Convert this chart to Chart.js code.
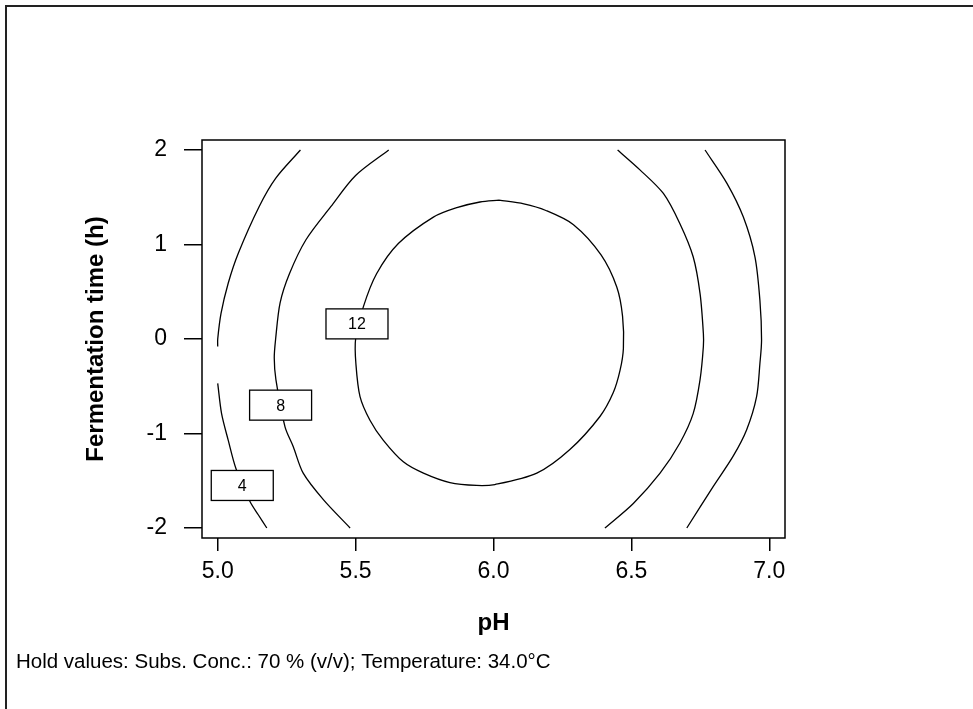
<!DOCTYPE html>
<html>
<head>
<meta charset="utf-8">
<title>Contour plot</title>
<script src="https://cdn.jsdelivr.net/npm/chart.js@4"></script>
<style>
  html, body { margin: 0; padding: 0; background: #fff; }
  canvas { display: block; }
</style>
</head>
<body>
<canvas id="grafico" width="973" height="709"></canvas>
<script>
// Ejes
const xTicks = [5.0, 5.5, 6.0, 6.5, 7.0];
const yTicks = [-2, -1, 0, 1, 2];

// Curvas de nivel
const c4IzqArribaX = [5.30, 5.21, 5.15, 5.075, 5.038, 5.012, 5.0, 5.0];
const c4IzqArribaY = [2.0, 1.70, 1.40, 0.91, 0.59, 0.27, 0.0, -0.08];
const c4IzqAbajoX = [5.0, 5.014, 5.038, 5.066, 5.117, 5.147, 5.178];
const c4IzqAbajoY = [-0.47, -0.79, -1.07, -1.37, -1.72, -1.86, -2.0];

const c8IzqX = [5.62, 5.50, 5.41, 5.32, 5.26, 5.226, 5.21, 5.205, 5.211, 5.244, 5.274, 5.31, 5.383, 5.48];
const c8IzqY = [2.0, 1.73, 1.40, 1.05, 0.69, 0.38, 0.0, -0.2, -0.43, -0.93, -1.14, -1.42, -1.70, -2.0];

const c12X = [6.02, 6.11, 6.19, 6.29, 6.39, 6.447, 6.468, 6.471, 6.459, 6.434, 6.386, 6.277, 6.157, 6.005, 5.939, 5.842, 5.746, 5.673, 5.60, 5.552, 5.516, 5.501, 5.50, 5.528, 5.576, 5.655, 5.782, 5.867, 5.951, 6.02];
const c12Y = [1.47, 1.43, 1.36, 1.21, 0.89, 0.55, 0.24, -0.10, -0.33, -0.57, -0.82, -1.17, -1.42, -1.54, -1.55, -1.52, -1.42, -1.30, -1.07, -0.86, -0.61, -0.26, 0.0, 0.34, 0.69, 1.01, 1.29, 1.39, 1.45, 1.47];

const c8DerX = [6.45, 6.531, 6.616, 6.676, 6.724, 6.749, 6.761, 6.761, 6.749, 6.724, 6.676, 6.604, 6.507, 6.404];
const c8DerY = [2.0, 1.79, 1.54, 1.22, 0.87, 0.48, 0.06, -0.08, -0.43, -0.79, -1.10, -1.42, -1.74, -2.0];

const c4DerX = [6.767, 6.846, 6.906, 6.948, 6.966, 6.972, 6.966, 6.954, 6.918, 6.869, 6.797, 6.701];
const c4DerY = [2.0, 1.65, 1.29, 0.87, 0.41, -0.01, -0.26, -0.61, -0.96, -1.24, -1.56, -2.0];

// Etiquetas de nivel
const etiquetaTexto = ['12', '8', '4'];
const etiquetaX = [5.505, 5.228, 5.089];
const etiquetaY = [0.16, -0.70, -1.55];

const textoPie = 'Hold values: Subs. Conc.: 70 % (v/v); Temperature: 34.0°C';

const FUENTE = '"Liberation Sans", Arial, sans-serif';

function puntos(xs, ys) {
    return xs.map((x, i) => ({ x: x, y: ys[i] }));
}

function curva(xs, ys) {
    return {
        data: puntos(xs, ys),
        showLine: true,
        borderColor: '#000',
        borderWidth: 1.3,
        pointRadius: 0,
        tension: 0.3,
        fill: false
    };
}

// Marco exterior, marco del área y pie de página
const marcoPlugin = {
    id: 'marco',
    beforeDraw(chart) {
        const c = chart.ctx;
        c.save();
        c.fillStyle = '#fff';
        c.fillRect(0, 0, chart.width, chart.height);
        c.strokeStyle = '#222';
        c.lineWidth = 2;
        c.beginPath();
        c.moveTo(6, chart.height);
        c.lineTo(6, 6);
        c.lineTo(chart.width, 6);
        c.stroke();
        c.restore();
    },
    afterDraw(chart) {
        const c = chart.ctx;
        const a = chart.chartArea;
        c.save();
        c.strokeStyle = '#000';
        c.lineWidth = 1.5;
        c.strokeRect(a.left, a.top, a.right - a.left, a.bottom - a.top);
        c.fillStyle = '#000';
        c.font = '20.5px ' + FUENTE;
        c.textBaseline = 'middle';
        c.textAlign = 'left';
        c.fillText(textoPie, 16, 662);
        c.restore();
    }
};

// Cajas con el valor de cada curva
const etiquetasPlugin = {
    id: 'etiquetas',
    afterDatasetsDraw(chart) {
        const c = chart.ctx;
        const sx = chart.scales.x;
        const sy = chart.scales.y;
        c.save();
        c.font = '16px ' + FUENTE;
        c.textAlign = 'center';
        c.textBaseline = 'middle';
        etiquetaTexto.forEach((t, i) => {
            const px = sx.getPixelForValue(etiquetaX[i]);
            const py = sy.getPixelForValue(etiquetaY[i]);
            c.fillStyle = '#fff';
            c.fillRect(px - 31, py - 15, 62, 30);
            c.strokeStyle = '#000';
            c.lineWidth = 1.3;
            c.strokeRect(px - 31, py - 15, 62, 30);
            c.fillStyle = '#000';
            c.fillText(t, px, py + 1);
        });
        c.restore();
    }
};

const ctx = document.getElementById('grafico').getContext('2d');
new Chart(ctx, {
    type: 'scatter',
    data: {
        datasets: [
            curva(c4IzqArribaX, c4IzqArribaY),
            curva(c4IzqAbajoX, c4IzqAbajoY),
            curva(c8IzqX, c8IzqY),
            curva(c12X, c12Y),
            curva(c8DerX, c8DerY),
            curva(c4DerX, c4DerY)
        ]
    },
    options: {
        responsive: false,
        animation: false,
        layout: { padding: { top: 140, right: 188, bottom: 0, left: 0 } },
        plugins: {
            legend: { display: false },
            tooltip: { enabled: false }
        },
        scales: {
            x: {
                type: 'linear',
                min: 4.943,
                max: 7.057,
                afterBuildTicks: s => { s.ticks = xTicks.map(v => ({ value: v })); },
                afterFit: s => { s.height = 171; },
                border: { display: false },
                grid: {
                    drawOnChartArea: false,
                    drawTicks: true,
                    tickLength: 13,
                    color: '#000',
                    lineWidth: 1.5
                },
                ticks: {
                    color: '#000',
                    padding: 7,
                    font: { family: FUENTE, size: 23 },
                    callback: v => Number(v).toFixed(1)
                },
                title: {
                    display: true,
                    text: 'pH',
                    color: '#000',
                    font: { family: FUENTE, size: 24, weight: 'bold' },
                    padding: { top: 0, bottom: 71 }
                }
            },
            y: {
                type: 'linear',
                min: -2.106,
                max: 2.106,
                afterBuildTicks: s => { s.ticks = yTicks.map(v => ({ value: v })); },
                afterFit: s => { s.width = 202; },
                border: { display: false },
                grid: {
                    drawOnChartArea: false,
                    drawTicks: true,
                    tickLength: 18,
                    color: '#000',
                    lineWidth: 1.5
                },
                ticks: {
                    color: '#000',
                    padding: 17,
                    font: { family: FUENTE, size: 23 },
                    callback: v => String(v)
                },
                title: {
                    display: true,
                    text: 'Fermentation time (h)',
                    color: '#000',
                    font: { family: FUENTE, size: 24, weight: 'bold' },
                    padding: { top: 82, bottom: 0 }
                }
            }
        }
    },
    plugins: [marcoPlugin, etiquetasPlugin]
});
</script>
</body>
</html>
